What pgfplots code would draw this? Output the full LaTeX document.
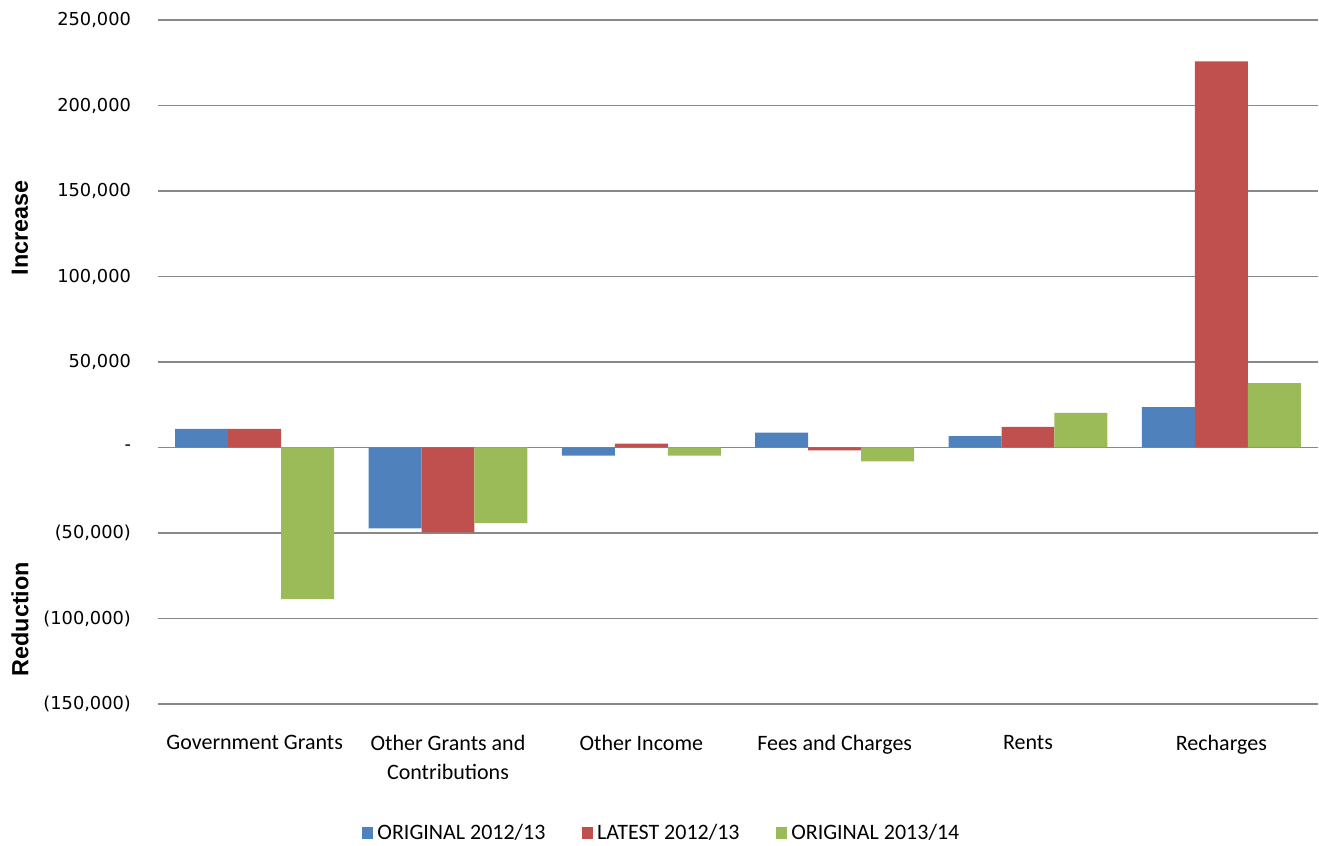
\documentclass[border=0pt]{standalone}
\usepackage{fontspec}
\setmainfont{Carlito}
\newfontfamily\tickfont{DejaVu Sans}
\newfontfamily\labfont{Liberation Sans}
\usepackage{pgfplots}
\pgfplotsset{compat=1.18}
\definecolor{cblue}{HTML}{4F81BD}
\definecolor{cred}{HTML}{C0504D}
\definecolor{cgreen}{HTML}{9BBB59}
\definecolor{cgrid}{HTML}{888888}

\begin{document}
\begin{tikzpicture}
\useasboundingbox (-79pt,-71pt) rectangle (580.5pt,352pt);
\begin{axis}[
    scale only axis,
    width=580pt, height=342pt,
    clip=false,
    ybar=0pt,
    bar width=0.274,
    xmin=-0.5, xmax=5.5,
    ymin=-150000, ymax=250000,
    xtick={0,1,2,3,4,5},
    xticklabels={Government Grants, {Other Grants and\\Contributions}, Other Income, Fees and Charges, Rents, Recharges},
    xticklabel style={font=\fontsize{11}{14.5}\selectfont, align=center, yshift=-12pt},
    ytick={-150000,-100000,-50000,0,50000,100000,150000,200000,250000},
    yticklabels={(150,000),(100,000),(50,000),-,{50,000},{100,000},{150,000},{200,000},{250,000}},
    yticklabel style={font=\tickfont\fontsize{8.9}{10}\selectfont, xshift=-10pt},
    major tick length=0pt,
    axis line style={draw=none},
    ymajorgrids,
    grid style={cgrid, line width=0.75pt},
    legend style={draw=none, at={(0.435,-0.189)}, anchor=center,
        legend columns=3, font=\fontsize{11}{12}\selectfont,
        /tikz/every even column/.append style={column sep=16pt}},
    legend image code/.code={\fill[#1] (0pt,-2.9pt) rectangle (5.8pt,2.9pt);},
]
\addplot[fill=cblue, draw=none] coordinates {
    (0,10900) (1,-47300) (2,-4800) (3,8700) (4,6600) (5,23600)};
\addplot[fill=cred, draw=none] coordinates {
    (0,10900) (1,-49600) (2,2300) (3,-1700) (4,12000) (5,225800)};
\addplot[fill=cgreen, draw=none] coordinates {
    (0,-88700) (1,-44200) (2,-4800) (3,-8100) (4,20300) (5,37700)};
\legend{ORIGINAL 2012/13, LATEST 2012/13, ORIGINAL 2013/14}
\node[rotate=90, font=\labfont\bfseries\fontsize{11.7}{13}\selectfont] at ([xshift=-69pt]rel axis cs:0,0.696) {Increase};
\node[rotate=90, font=\labfont\bfseries\fontsize{11.7}{13}\selectfont] at ([xshift=-69pt]rel axis cs:0,0.124) {Reduction};
\end{axis}
\end{tikzpicture}
\end{document}
